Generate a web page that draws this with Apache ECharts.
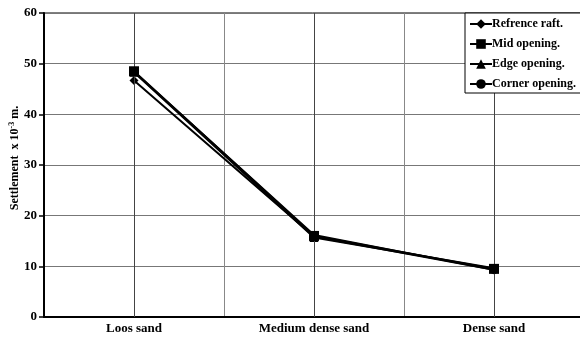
<!DOCTYPE html>
<html>
<head>
<meta charset="utf-8">
<script src="https://cdn.jsdelivr.net/npm/echarts@6/dist/echarts.min.js"></script>
<style>
  html, body { margin: 0; padding: 0; background: #fff; }
  #chart { width: 580px; height: 338px; }
</style>
</head>
<body>
<div id="chart"></div>
<script>
// Soil categories along the x axis
const soilTypes = ['Loos sand', 'Medium dense sand', 'Dense sand'];

// Settlement (x 10^-3 m) for each raft case
const refrenceRaft = [46.7, 15.9, 9.3];
const midOpening = [48.5, 16.0, 9.5];
const edgeOpening = [48.3, 15.7, 9.6];
const cornerOpening = [48.4, 16.2, 9.3];

// Y axis range
const yMin = 0, yMax = 60, yStep = 10;

const serif = '"Liberation Serif", "Times New Roman", serif';

function lineSeries(name, data, symbol, size, z) {
  return {
    name: name,
    type: 'line',
    data: data,
    symbol: symbol,
    symbolSize: size,
    z: z,
    lineStyle: { color: '#000', width: 2 },
    itemStyle: { color: '#000' },
    emphasis: { disabled: true },
    animation: false
  };
}

const series = [
  lineSeries('Refrence raft.', refrenceRaft, 'diamond', 9, 2),
  lineSeries('Mid opening.', midOpening, 'rect', 10, 5),
  lineSeries('Edge opening.', edgeOpening, 'triangle', 9, 3),
  lineSeries('Corner opening.', cornerOpening, 'circle', 8, 4)
];

// vertical guide lines through each soil category
series[0].markLine = {
  silent: true,
  symbol: 'none',
  label: { show: false },
  lineStyle: { color: '#444', width: 1, type: 'solid' },
  data: soilTypes.map(s => ({ xAxis: s }))
};

const chart = echarts.init(document.getElementById('chart'));
chart.setOption({
  animation: false,
  backgroundColor: '#fff',
  grid: {
    left: 44, top: 13, width: 540, bottom: 21,
    outerBoundsMode: 'none',
    containLabel: false,
    show: true, borderColor: '#000', borderWidth: 1, backgroundColor: 'transparent'
  },
  legend: {
    orient: 'vertical',
    left: 465, top: 13,
    padding: [5, 12, 3, 4],
    itemGap: 8,
    itemWidth: 22,
    itemHeight: 12,
    backgroundColor: '#fff',
    borderColor: '#000',
    borderWidth: 1,
    z: 10,
    textStyle: { fontFamily: serif, fontWeight: 'bold', fontSize: 12, color: '#000', padding: [0, 0, 0, -5] },
    data: series.map(s => s.name)
  },
  xAxis: {
    type: 'category',
    data: soilTypes,
    boundaryGap: true,
    axisLine: { lineStyle: { color: '#000', width: 2 } },
    axisTick: { show: false },
    axisLabel: { fontFamily: serif, fontWeight: 'bold', fontSize: 13, color: '#000', margin: 5 },
    splitLine: { show: true, lineStyle: { color: '#888', width: 1 } }
  },
  yAxis: {
    type: 'value',
    min: yMin, max: yMax, interval: yStep,
    axisLine: { show: true, lineStyle: { color: '#000', width: 2 } },
    axisTick: { show: true, length: 5, lineStyle: { color: '#000', width: 1.5 } },
    axisLabel: { fontFamily: serif, fontWeight: 'bold', fontSize: 13, color: '#000', margin: 7 },
    splitLine: { show: true, lineStyle: { color: '#777', width: 1 } },
    name: '{a|Settlement  x 10}{s|-3}{a| m.}',
    nameLocation: 'middle',
    nameGap: 22,
    nameMoveOverlap: false,
    nameRotate: 90,
    nameTextStyle: {
      padding: [0, 0, 0, 14],
      rich: {
        a: { fontFamily: serif, fontWeight: 'bold', fontSize: 12, color: '#000' },
        s: { fontFamily: serif, fontWeight: 'bold', fontSize: 8, color: '#000', verticalAlign: 'top', padding: [0, 0, 6, 0] }
      }
    }
  },
  series: series
});
</script>
</body>
</html>
